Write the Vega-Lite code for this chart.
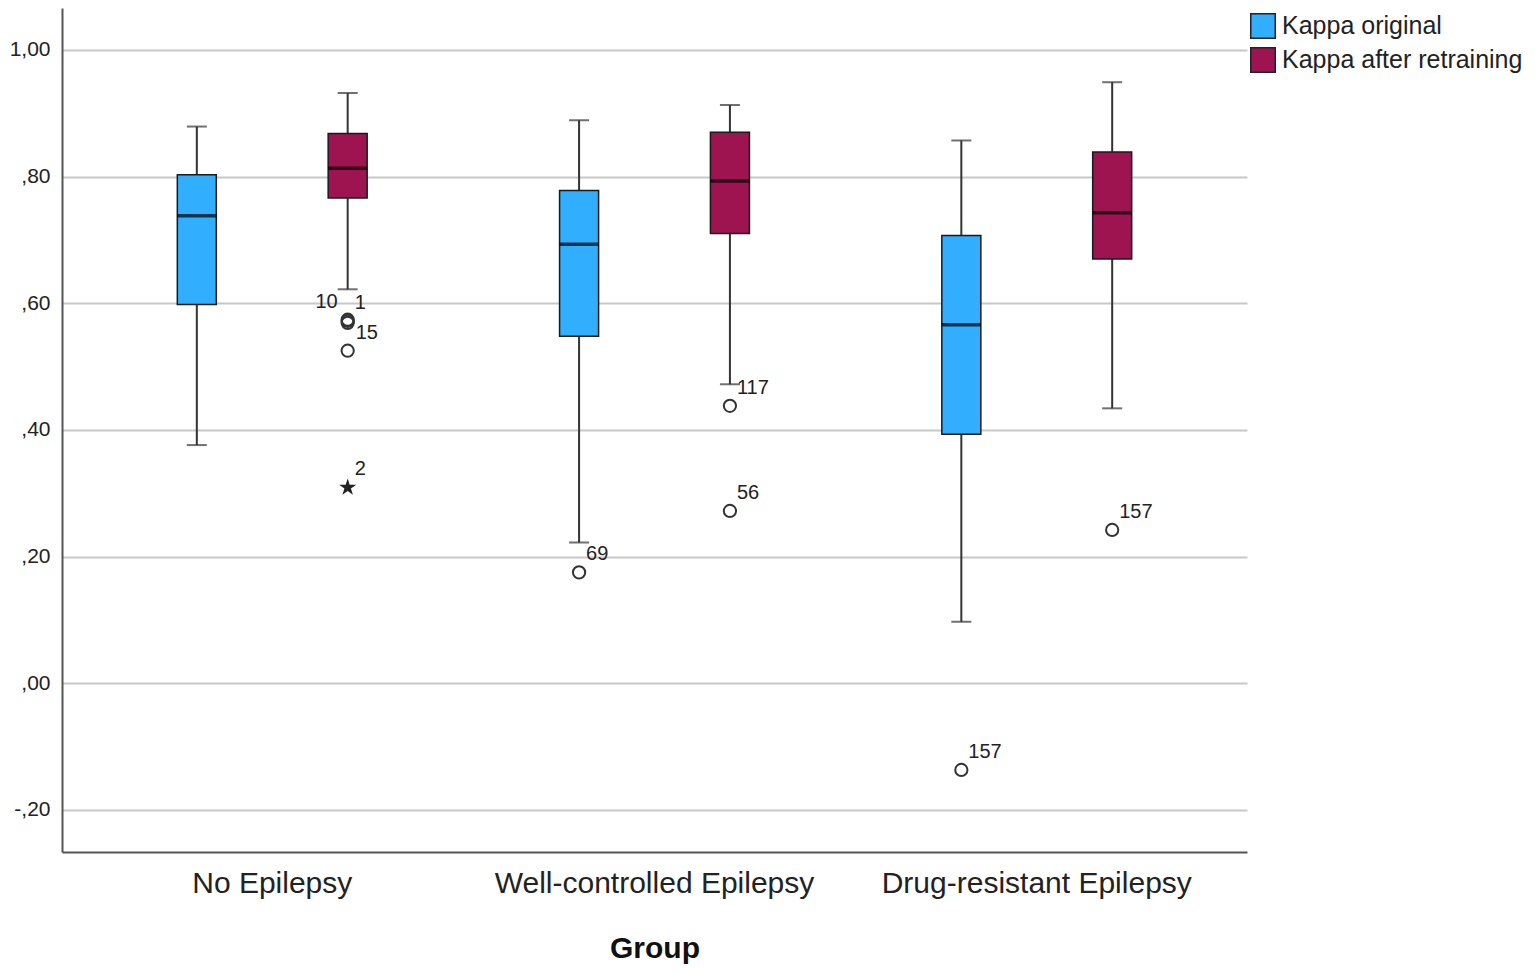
{
  "$schema": "https://vega.github.io/schema/vega-lite/v6.json",
  "autosize": "none",
  "width": 1185,
  "height": 844,
  "padding": {"left": 62, "top": 8, "right": 288, "bottom": 121},
  "background": "white",
  "config": {
    "font": "Liberation Sans",
    "view": {"stroke": null},
    "legend": {
      "orient": "none", "legendX": 1188, "legendY": 5, "padding": 0,
      "symbolType": "square", "symbolSize": 600, "symbolStrokeColor": "#222222", "symbolStrokeWidth": 1.5,
      "labelFontSize": 25, "labelColor": "#222222", "rowPadding": 2, "labelOffset": 6, "symbolOffset": 0,
      "labelLimit": 400
    }
  },
  "datasets": {
    "stats": [
      {"group": "No Epilepsy", "series": "Kappa original", "lo": 0.376, "q1": 0.598, "med": 0.738, "q3": 0.803, "hi": 0.879},
      {"group": "No Epilepsy", "series": "Kappa after retraining", "lo": 0.622, "q1": 0.766, "med": 0.813, "q3": 0.868, "hi": 0.932},
      {"group": "Well-controlled Epilepsy", "series": "Kappa original", "lo": 0.222, "q1": 0.548, "med": 0.693, "q3": 0.778, "hi": 0.889},
      {"group": "Well-controlled Epilepsy", "series": "Kappa after retraining", "lo": 0.472, "q1": 0.710, "med": 0.793, "q3": 0.870, "hi": 0.913},
      {"group": "Drug-resistant Epilepsy", "series": "Kappa original", "lo": 0.097, "q1": 0.393, "med": 0.566, "q3": 0.707, "hi": 0.857},
      {"group": "Drug-resistant Epilepsy", "series": "Kappa after retraining", "lo": 0.434, "q1": 0.670, "med": 0.743, "q3": 0.839, "hi": 0.949}
    ],
    "outliers": [
      {"group": "No Epilepsy", "series": "Kappa after retraining", "value": 0.574, "label": "10", "type": "outlier"},
      {"group": "No Epilepsy", "series": "Kappa after retraining", "value": 0.572, "label": "1", "type": "outlier"},
      {"group": "No Epilepsy", "series": "Kappa after retraining", "value": 0.569, "label": "15", "type": "outlier"},
      {"group": "No Epilepsy", "series": "Kappa after retraining", "value": 0.525, "label": "", "type": "outlier"},
      {"group": "No Epilepsy", "series": "Kappa after retraining", "value": 0.309, "label": "2", "type": "extreme"},
      {"group": "Well-controlled Epilepsy", "series": "Kappa original", "value": 0.175, "label": "69", "type": "outlier"},
      {"group": "Well-controlled Epilepsy", "series": "Kappa after retraining", "value": 0.438, "label": "117", "type": "outlier"},
      {"group": "Well-controlled Epilepsy", "series": "Kappa after retraining", "value": 0.272, "label": "56", "type": "outlier"},
      {"group": "Drug-resistant Epilepsy", "series": "Kappa original", "value": -0.137, "label": "157", "type": "outlier"},
      {"group": "Drug-resistant Epilepsy", "series": "Kappa after retraining", "value": 0.242, "label": "157", "type": "outlier"}
    ]
  },
  "encoding": {
    "x": {
      "field": "group", "type": "nominal",
      "sort": ["No Epilepsy", "Well-controlled Epilepsy", "Drug-resistant Epilepsy"],
      "scale": {"paddingInner": 0, "paddingOuter": 0.05},
      "title": "Group",
      "axis": {
        "labelAngle": 0, "labelFontSize": 30, "labelColor": "#222222", "labelPadding": 16, "labelLimit": 500,
        "ticks": false, "domain": true, "domainColor": "#555555", "domainWidth": 2,
        "titleFontSize": 30, "titleFontWeight": "bold", "titleColor": "#111111", "titlePadding": 35
      }
    },
    "xOffset": {
      "field": "series", "type": "nominal",
      "scale": {"domain": ["Kappa original", "Kappa after retraining"], "paddingOuter": 0.267, "paddingInner": 0}
    }
  },
  "layer": [
    {
      "data": {"name": "stats"},
      "mark": {"type": "rule", "color": "#333333", "strokeWidth": 2},
      "encoding": {
        "y": {"field": "lo", "type": "quantitative",
          "scale": {"domain": [-0.2666, 1.0662], "nice": false, "zero": false},
          "title": null,
          "axis": {"values": [-0.2, 0, 0.2, 0.4, 0.6, 0.8, 1.0], "grid": true, "gridColor": "#c8c8c8", "gridWidth": 2,
            "ticks": false, "domain": true, "domainColor": "#555555", "domainWidth": 2,
            "labelFontSize": 21, "labelColor": "#222222", "labelPadding": 12,
            "labelExpr": "replace(replace(replace(format(datum.value, '.2f'), '\u2212', '-'), '0.', '.'), '.', ',')"}},
        "y2": {"field": "q1"}
      }
    },
    {
      "data": {"name": "stats"},
      "mark": {"type": "rule", "color": "#333333", "strokeWidth": 2},
      "encoding": {
        "y": {"field": "q3", "type": "quantitative"},
        "y2": {"field": "hi"}
      }
    },
    {
      "data": {"name": "stats"},
      "mark": {"type": "tick", "color": "#333333", "size": 20, "thickness": 2, "orient": "horizontal"},
      "encoding": {"y": {"field": "lo", "type": "quantitative"}}
    },
    {
      "data": {"name": "stats"},
      "mark": {"type": "tick", "color": "#333333", "size": 20, "thickness": 2, "orient": "horizontal"},
      "encoding": {"y": {"field": "hi", "type": "quantitative"}}
    },
    {
      "data": {"name": "stats"},
      "mark": {"type": "bar", "size": 39, "stroke": "#1a1a1a", "strokeWidth": 1.5, "opacity": 1},
      "encoding": {
        "y": {"field": "q1", "type": "quantitative"},
        "y2": {"field": "q3"},
        "color": {"field": "series", "type": "nominal",
          "scale": {"domain": ["Kappa original", "Kappa after retraining"], "range": ["#31aefe", "#9e1450"]},
          "legend": {"title": null}}
      }
    },
    {
      "data": {"name": "stats"},
      "mark": {"type": "tick", "color": "#000000", "size": 39, "thickness": 3.5, "orient": "horizontal"},
      "encoding": {"y": {"field": "med", "type": "quantitative"}}
    },
    {
      "data": {"name": "outliers"},
      "transform": [{"filter": "datum.type == 'outlier'"}],
      "mark": {"type": "point", "filled": false, "shape": "circle", "size": 150, "strokeWidth": 2, "color": "#333333", "opacity": 1},
      "encoding": {"y": {"field": "value", "type": "quantitative"}}
    },
    {
      "data": {"name": "outliers"},
      "transform": [{"filter": "datum.type == 'extreme'"}],
      "mark": {"type": "point", "filled": true, "size": 320, "color": "#222222", "opacity": 1,
        "shape": "M0,-1L0.223,-0.307L0.951,-0.309L0.361,0.117L0.588,0.809L0,0.38L-0.588,0.809L-0.361,0.117L-0.951,-0.309L-0.223,-0.307Z"},
      "encoding": {"y": {"field": "value", "type": "quantitative"}}
    },
    {
      "data": {"name": "outliers"},
      "transform": [{"filter": "datum.label != '10' && datum.label != '15' && datum.label != ''"}],
      "mark": {"type": "text", "align": "left", "baseline": "alphabetic", "dx": 7, "dy": -12, "fontSize": 20, "color": "#222222"},
      "encoding": {"y": {"field": "value", "type": "quantitative"}, "text": {"field": "label"}}
    },
    {
      "data": {"name": "outliers"},
      "transform": [{"filter": "datum.label == '10'"}],
      "mark": {"type": "text", "align": "right", "baseline": "alphabetic", "dx": -10, "dy": -12, "fontSize": 20, "color": "#222222"},
      "encoding": {"y": {"field": "value", "type": "quantitative"}, "text": {"field": "label"}}
    },
    {
      "data": {"name": "outliers"},
      "transform": [{"filter": "datum.label == '15'"}],
      "mark": {"type": "text", "align": "left", "baseline": "alphabetic", "dx": 8, "dy": 16, "fontSize": 20, "color": "#222222"},
      "encoding": {"y": {"field": "value", "type": "quantitative"}, "text": {"field": "label"}}
    }
  ]
}
